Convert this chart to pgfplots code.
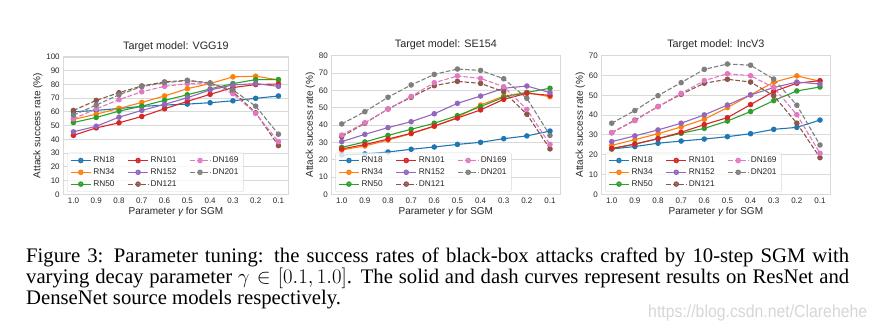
\documentclass[border=0pt]{standalone}
\usepackage{pgfplots}
\pgfplotsset{compat=1.18}
\usepackage{pgfplotstable}
\usepackage{graphicx}
\usepackage{fontspec}
\setmainfont{Liberation Serif}
\newfontfamily\plotfont{Liberation Sans}

\definecolor{c0}{HTML}{1F77B4}
\definecolor{c1}{HTML}{FF7F0E}
\definecolor{c2}{HTML}{2CA02C}
\definecolor{c3}{HTML}{D62728}
\definecolor{c4}{HTML}{9467BD}
\definecolor{c5}{HTML}{8C564B}
\definecolor{c6}{HTML}{E377C2}
\definecolor{c7}{HTML}{7F7F7F}
\definecolor{txt}{HTML}{262626}

\pgfplotstableread{
idx RN18 RN34 RN50 RN101 RN152 DN121 DN169 DN201
0 60.0 54.4 52.2 42.9 45.4 61.0 54.9 57.6
1 61.0 58.3 55.9 48.3 49.5 68.3 62.2 64.9
2 62.4 62.4 60.5 52.0 56.1 73.9 68.8 72.4
3 63.9 66.8 64.1 56.6 61.0 78.8 74.6 78.3
4 64.9 71.5 68.3 62.2 65.4 81.7 78.5 81.2
5 65.6 76.8 72.4 67.6 70.2 82.9 80.5 82.7
6 66.6 80.5 76.6 72.7 75.9 81.0 80.2 80.7
7 68.0 85.4 80.5 77.6 79.5 74.6 73.2 75.9
8 69.8 85.9 83.4 79.8 80.5 59.3 58.8 64.1
9 71.5 83.2 83.4 80.2 78.5 35.4 38.3 43.7
}\vgg

\pgfplotstableread{
idx RN18 RN34 RN50 RN101 RN152 DN121 DN169 DN201
0 22.7 25.6 27.1 26.2 30.4 33.3 34.2 40.6
1 23.3 27.9 30.2 28.7 34.6 41.0 41.3 47.7
2 24.4 31.3 34.0 31.9 38.5 49.2 49.2 56.0
3 26.0 35.0 37.5 35.2 41.9 56.0 56.5 63.1
4 27.3 39.2 41.0 39.4 46.5 62.7 64.4 69.2
5 28.8 44.4 45.4 44.0 52.5 65.2 68.3 72.3
6 30.0 51.5 50.6 48.7 56.7 64.0 66.9 71.5
7 32.1 56.7 56.0 54.8 61.2 59.2 62.1 66.7
8 33.7 58.7 58.8 58.3 62.5 46.2 49.0 55.4
9 36.5 56.3 61.2 57.1 58.7 26.2 28.8 34.0
}\sen

\pgfplotstableread{
idx RN18 RN34 RN50 RN101 RN152 DN121 DN169 DN201
0 22.9 24.7 22.9 23.2 26.6 31.1 31.1 35.9
1 24.1 27.6 25.4 25.3 29.5 37.5 37.2 42.3
2 25.8 30.6 28.1 28.1 32.5 44.3 44.3 49.8
3 26.9 34.0 30.8 31.3 35.9 50.5 51.0 56.4
4 27.9 37.9 33.3 35.2 40.1 56.1 57.4 63.1
5 29.1 43.8 37.0 38.7 45.1 58.1 60.9 65.8
6 30.6 50.2 41.8 45.3 50.2 56.7 59.9 65.2
7 32.8 56.6 47.3 51.9 53.9 49.8 53.9 58.2
8 33.8 59.8 52.2 56.1 56.7 35.9 40.2 45.0
9 37.5 57.1 54.2 57.4 55.7 18.5 20.7 24.9
}\inc

\pgfplotsset{
  base/.style={mark=*, line width=1.1pt, mark size=2.2pt, solid, mark options={solid}},
  dsh/.style={base, dash pattern=on 4.5pt off 2pt},
  s18/.style={base, color=c0},
  s34/.style={base, color=c1},
  s50/.style={base, color=c2},
  s101/.style={base, color=c3},
  s152/.style={base, color=c4},
  s121/.style={dsh, color=c5},
  s169/.style={dsh, color=c6},
  s201/.style={dsh, color=c7},
  sgm/.style={
    scale only axis,
    xmin=-0.45, xmax=9.45,
    xtick={0,...,9},
    xticklabels={1.0,0.9,0.8,0.7,0.6,0.5,0.4,0.3,0.2,0.1},
    axis line style={draw=black!15},
    ymajorgrids, grid style={draw=black!15, line width=0.8pt},
    major tick length=0pt, tick style={draw=none},
    tick label style={font=\plotfont\fontsize{8}{9}\selectfont, text=txt},
    /pgf/number format/assume math mode=true,
    label style={font=\plotfont\fontsize{10}{12}\selectfont, text=txt},
    title style={font=\plotfont\fontsize{10.8}{12}\selectfont, text=txt, yshift=-4pt},
    xlabel style={yshift=3pt},
    ylabel shift=-3pt,
    ylabel={Attack success rate (\%)},
    xlabel={Parameter {\itshape γ} for SGM},
    legend columns=3,
    legend cell align=left,
    legend image code/.code={\draw[mark repeat=2,mark phase=2] plot coordinates {(0pt,0pt)(10pt,0pt)(20pt,0pt)};},
    legend style={
      at={(rel axis cs:0.017,0.017)}, anchor=south west,
      draw=black!15, fill=white, fill opacity=0.8, draw opacity=1, text opacity=1,
      rounded corners=2pt,
      font=\plotfont\fontsize{8.3}{9}\selectfont, text=txt,
      inner xsep=3pt, inner ysep=2pt, row sep=0.5pt,
      /tikz/every even column/.append style={column sep=11pt},
    },
  },
}

\newcommand{\plotall}[1]{%
  \addplot[s18, forget plot] table[x=idx,y=RN18]{#1};
  \addplot[s34, forget plot] table[x=idx,y=RN34]{#1};
  \addplot[s50, forget plot] table[x=idx,y=RN50]{#1};
  \addplot[s101, forget plot] table[x=idx,y=RN101]{#1};
  \addplot[s152, forget plot] table[x=idx,y=RN152]{#1};
  \addplot[s121, forget plot] table[x=idx,y=DN121]{#1};
  \addplot[s169, forget plot] table[x=idx,y=DN169]{#1};
  \addplot[s201, forget plot] table[x=idx,y=DN201]{#1};
  \addlegendimage{s18}\addlegendentry{RN18}
  \addlegendimage{s101}\addlegendentry{RN101}
  \addlegendimage{s169}\addlegendentry{DN169}
  \addlegendimage{s34}\addlegendentry{RN34}
  \addlegendimage{s152}\addlegendentry{RN152}
  \addlegendimage{s201}\addlegendentry{DN201}
  \addlegendimage{s50}\addlegendentry{RN50}
  \addlegendimage{s121}\addlegendentry{DN121}
}

\begin{document}
\begin{tikzpicture}[x=1pt,y=1pt]
\path[use as bounding box] (0,0) rectangle (877,-331);

\begin{axis}[sgm, at={(63.2pt,-194.3pt)}, anchor=south west,
  width=225.5pt, height=137.5pt, ymin=0, ymax=100, ytick={0,10,...,100},
  title={Target model: VGG19}]
\plotall{\vgg}
\end{axis}

\begin{axis}[sgm, at={(331.3pt,-194.3pt)}, anchor=south west,
  width=229.1pt, height=138.6pt, ymin=0, ymax=80, ytick={0,10,...,80},
  title={Target model: SE154}]
\plotall{\sen}
\end{axis}

\begin{axis}[sgm, at={(601.3pt,-194.3pt)}, anchor=south west,
  width=229.1pt, height=138.6pt, ymin=0, ymax=70, ytick={0,10,...,70},
  title={Target model: IncV3}]
\plotall{\inc}
\end{axis}

\node[anchor=base west, inner sep=0pt, text=black] at (26,-262.5) {\parbox[t]{823pt}{\fontsize{20.7}{21}\selectfont
Figure 3: Parameter tuning: the success rates of black-box attacks crafted by 10-step SGM with\linebreak
varying decay parameter $\gamma\in[0.1,1.0]$. The solid and dash curves represent results on ResNet and\linebreak
DenseNet source models respectively.}};

\node[anchor=base west, inner sep=0pt, text=black!16] at (648,-317) {\resizebox{219pt}{12.7pt}{\plotfont https://blog.csdn.net/Clarehehe}};
\end{tikzpicture}
\end{document}
